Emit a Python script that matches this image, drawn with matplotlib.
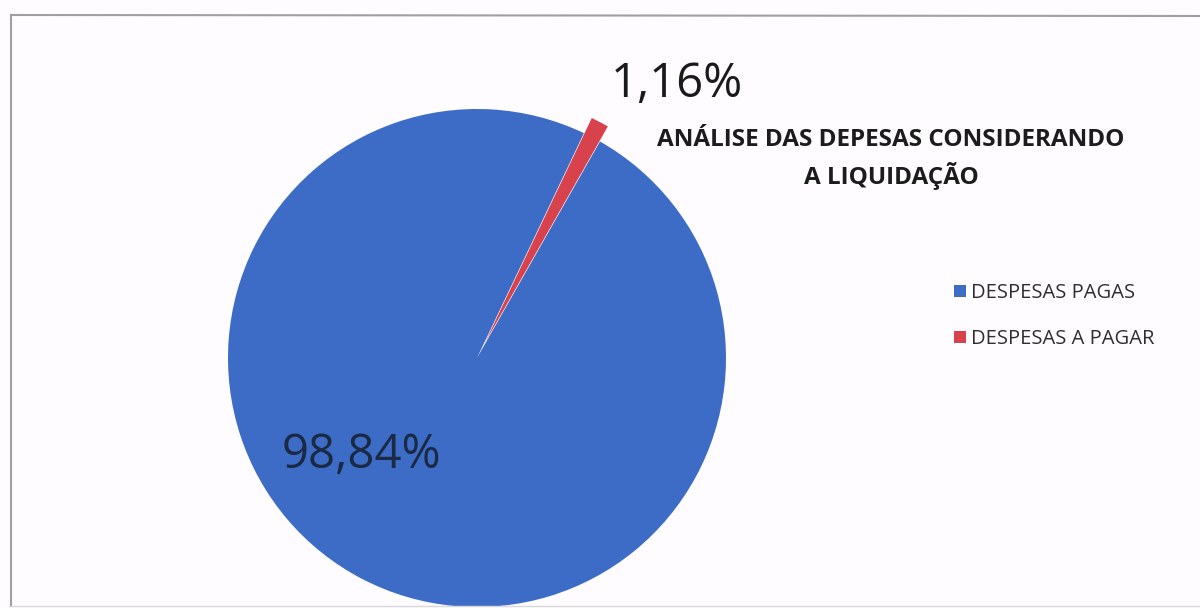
import matplotlib
matplotlib.use("Agg")
import matplotlib.pyplot as plt
from matplotlib.lines import Line2D

categories = ["DESPESAS PAGAS", "DESPESAS A PAGAR"]
values = [98.84, 1.16]
colors = ["#3D6CC7", "#D8424C"]
title = "ANÁLISE DAS DEPESAS CONSIDERANDO\nA LIQUIDAÇÃO"

W, H = 1200, 608
fig = plt.figure(figsize=(W / 100, H / 100), dpi=100)
fig.patch.set_facecolor("#FEFCFE")
ax = fig.add_axes([0, 0, 1, 1])

cx, cy, r = 477, H - 358, 249
wedges, _ = ax.pie(values, colors=colors, startangle=60.4, counterclock=False,
                   explode=[0, 17], center=(cx, cy), radius=r,
                   wedgeprops=dict(linewidth=0))
ax.set_xlim(0, W)
ax.set_ylim(0, H)
ax.set_aspect("equal")
ax.axis("off")

# frame (left, top, bottom)
frame_kw = dict(transform=fig.transFigure, color="#A0A0A0", linewidth=1.5)
fig.add_artist(Line2D([11 / W, 11 / W], [2 / H, (H - 15) / H], **frame_kw))
fig.add_artist(Line2D([11 / W, 1.0], [(H - 15) / H, (H - 16) / H], **frame_kw))
fig.add_artist(Line2D([11 / W, 1.0], [2 / H, 2 / H], color="#D8D8D8", linewidth=1,
                      transform=fig.transFigure))

fmt = lambda v: f"{v:.2f}".replace(".", ",") + "%"
font = "Open Sans"
ax.text(677, H - 84, fmt(values[1]), fontsize=34, family=font, color="#1A1A1A",
        ha="center", va="center")
ax.text(361, H - 455, fmt(values[0]), fontsize=34, family=font, color="#1A2A45",
        ha="center", va="center")

ax.text(891, H - 159, title, fontsize=17.5, family=font, fontweight="bold",
        color="#1C1C1C", ha="center", va="center", linespacing=1.45)

handles = [Line2D([], [], marker="s", linestyle="", markersize=8, markerfacecolor=c,
                  markeredgewidth=0) for c in colors]
leg = ax.legend(handles, categories, loc="center left", bbox_to_anchor=(944 / W, (H - 316) / H),
                bbox_transform=fig.transFigure, frameon=False, handlelength=0.6,
                handletextpad=0.25, labelspacing=1.25, borderpad=0,
                prop=dict(family=font, size=14.5))
for t in leg.get_texts():
    t.set_color("#2E2E2E")

fig.savefig("out.png", dpi=100, facecolor=fig.get_facecolor())
